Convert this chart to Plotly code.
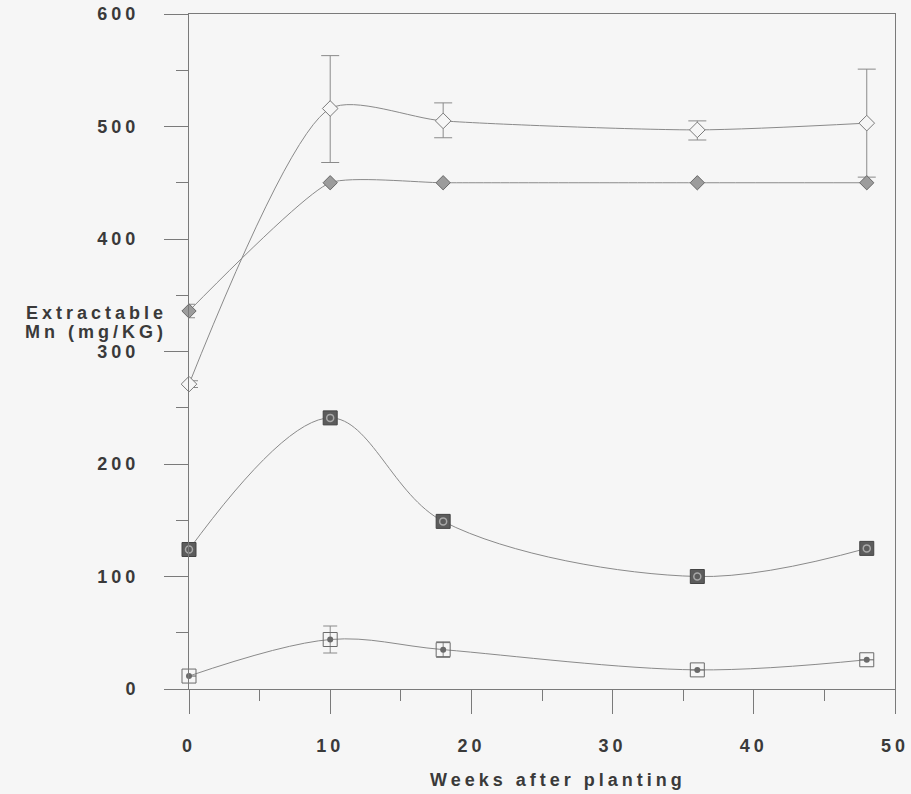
import plotly.graph_objects as go

# Data
weeks = [0, 10, 18, 36, 48]

mn_a = [271, 516, 505, 497, 503]        # open diamonds
mn_a_err_up = [3, 47, 16, 8, 48]
mn_a_err_dn = [3, 48, 15, 9, 48]

mn_b = [336, 450, 450, 450, 450]        # grey filled diamonds
mn_b_err_up = [6, 0, 0, 0, 0]
mn_b_err_dn = [6, 0, 0, 0, 0]

mn_c = [124, 241, 149, 100, 125]        # dark filled squares

mn_d = [11.5, 44, 35, 17, 26]           # open squares with dot
mn_d_err_up = [0, 12, 7, 0, 0]
mn_d_err_dn = [0, 12, 7, 0, 0]

x_ticks = [0, 10, 20, 30, 40, 50]
y_ticks = [0, 100, 200, 300, 400, 500, 600]

LINE = "#8a8a8a"
AXIS = "#7a7a7a"
TEXT = "#3a3a3a"
BG = "#f6f6f6"

fig = go.Figure()

# Series A
fig.add_trace(go.Scatter(
    x=weeks, y=mn_a, mode="lines+markers", cliponaxis=False,
    line=dict(color=LINE, width=1, shape="spline", smoothing=0.7),
    marker=dict(symbol="diamond", size=12, color=BG, line=dict(color="#7a7a7a", width=1)),
    error_y=dict(type="data", array=mn_a_err_up, arrayminus=mn_a_err_dn,
                 color=LINE, thickness=1, width=9),
    showlegend=False))

# Series B
fig.add_trace(go.Scatter(
    x=weeks, y=mn_b, mode="lines+markers", cliponaxis=False,
    line=dict(color=LINE, width=1, shape="spline", smoothing=0.5),
    marker=dict(symbol="diamond", size=11, color="#9c9c9c", line=dict(color="#6a6a6a", width=1)),
    error_y=dict(type="data", array=mn_b_err_up, arrayminus=mn_b_err_dn,
                 color=LINE, thickness=1, width=6),
    showlegend=False))

# Series C
fig.add_trace(go.Scatter(
    x=weeks, y=mn_c, mode="lines+markers", cliponaxis=False,
    line=dict(color=LINE, width=1, shape="spline"),
    marker=dict(symbol="square", size=14, color="#5c5c5c", line=dict(color="#444444", width=1)),
    showlegend=False))
fig.add_trace(go.Scatter(
    x=weeks, y=mn_c, mode="markers", cliponaxis=False,
    marker=dict(symbol="circle-open", size=7, color="#a8a8a8", line=dict(color="#a8a8a8", width=1.5)),
    hoverinfo="skip", showlegend=False))

# Series D
fig.add_trace(go.Scatter(
    x=weeks, y=mn_d, mode="lines+markers", cliponaxis=False,
    line=dict(color=LINE, width=1, shape="spline"),
    marker=dict(symbol="square-open", size=14, color="#6a6a6a", line=dict(color="#6a6a6a", width=1)),
    error_y=dict(type="data", array=mn_d_err_up, arrayminus=mn_d_err_dn,
                 color=LINE, thickness=1, width=7),
    showlegend=False))
fig.add_trace(go.Scatter(
    x=weeks, y=mn_d, mode="markers", cliponaxis=False,
    marker=dict(symbol="circle", size=6, color="#6a6a6a"),
    hoverinfo="skip", showlegend=False))

tick_font = dict(family="Liberation Sans, Arial, sans-serif", size=18, color=TEXT, weight="bold")

fig.update_xaxes(
    range=[0, 50], tickvals=x_ticks, ticktext=[str(v) for v in x_ticks],
    showgrid=False, zeroline=False, automargin=False,
    showline=True, linecolor=AXIS, linewidth=1, mirror=True,
    ticks="outside", ticklen=24, tickcolor=AXIS, tickwidth=1,
    minor=dict(dtick=5, tick0=0, ticks="outside", ticklen=11, tickcolor=AXIS, showgrid=False),
    tickfont=tick_font, ticklabelstandoff=16,
)
fig.update_yaxes(
    range=[0, 600], tickvals=y_ticks, ticktext=[str(v) for v in y_ticks],
    showgrid=False, zeroline=False, automargin=False,
    showline=True, linecolor=AXIS, linewidth=1, mirror=True,
    ticks="outside", ticklen=24, tickcolor=AXIS, tickwidth=1,
    minor=dict(dtick=50, tick0=0, ticks="outside", ticklen=12, tickcolor=AXIS, showgrid=False),
    tickfont=tick_font, ticklabelstandoff=21,
)

fig.add_annotation(
    text="Extractable", xref="paper", yref="paper",
    x=-0.028, y=(689 - 313) / 675, xanchor="right", yanchor="middle", align="right",
    showarrow=False, font=tick_font)
fig.add_annotation(
    text="Mn (mg/KG)", xref="paper", yref="paper",
    x=-0.028, y=(689 - 332) / 675, xanchor="right", yanchor="middle", align="right",
    showarrow=False, font=tick_font)
fig.add_annotation(
    text="Weeks after planting", xref="paper", yref="paper",
    x=0.522, y=-0.135, xanchor="center", yanchor="middle",
    showarrow=False, font=tick_font)

fig.update_layout(
    width=911, height=794,
    margin=dict(l=189, r=16, t=14, b=105),
    paper_bgcolor=BG, plot_bgcolor=BG,
)

post = (
    "var s=document.createElement('style');"
    "s.textContent='.main-svg text{letter-spacing:4px}';"
    "document.head.appendChild(s);"
    "var gd=document.getElementById('{plot_id}');"
    "Plotly.redraw(gd);"
)
fig.write_html("out.html", post_script=post)
